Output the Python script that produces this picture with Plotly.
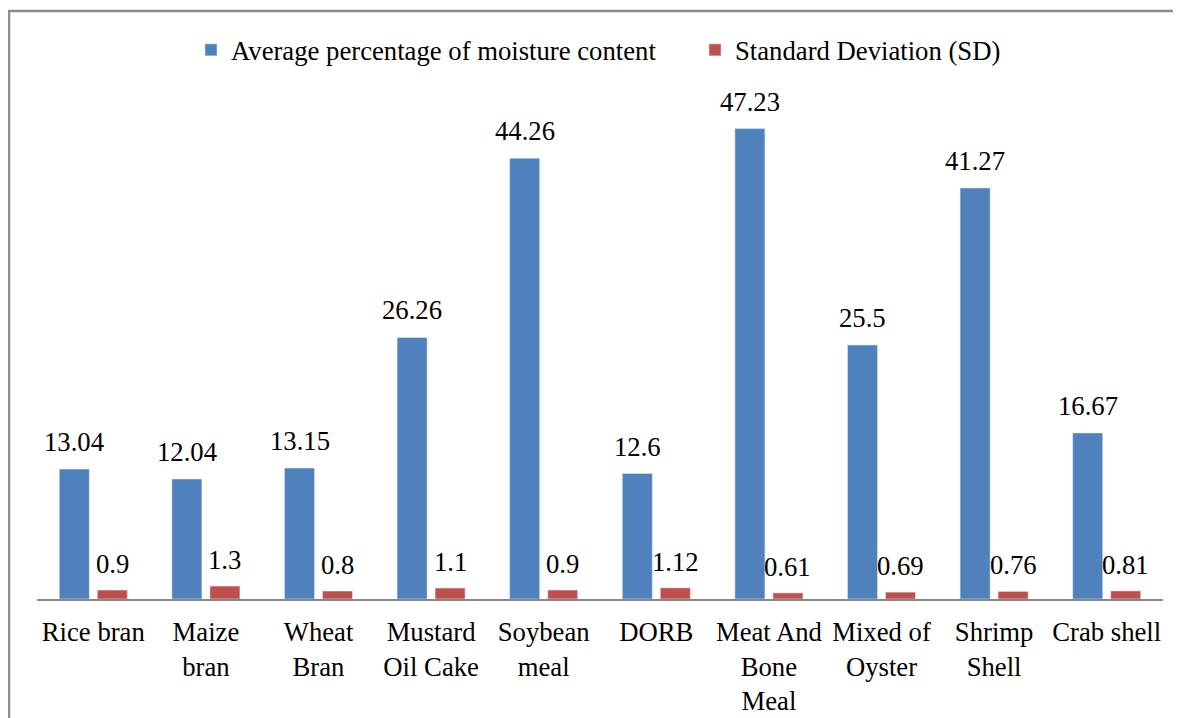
import plotly.graph_objects as go

categories = ["Rice bran", "Maize<br>bran", "Wheat<br>Bran", "Mustard<br>Oil Cake", "Soybean<br>meal",
              "DORB", "Meat And<br>Bone<br>Meal", "Mixed of<br>Oyster", "Shrimp<br>Shell", "Crab shell"]
avg_moisture = [13.04, 12.04, 13.15, 26.26, 44.26, 12.6, 47.23, 25.5, 41.27, 16.67]
std_dev = [0.9, 1.3, 0.8, 1.1, 0.9, 1.12, 0.61, 0.69, 0.76, 0.81]
avg_labels = ["13.04", "12.04", "13.15", "26.26", "44.26", "12.6", "47.23", "25.5", "41.27", "16.67"]
sd_labels = ["0.9", "1.3", "0.8", "1.1", "0.9", "1.12", "0.61", "0.69", "0.76", "0.81"]

FONT = "'Liberation Serif', 'DejaVu Serif', serif"
FS = 26.7
OFF = 8  # page body margin
W, H = 1181 - OFF, 718 - OFF
L, R, T, B = 37 - OFF, 18, 101 - OFF, 119
pw, ph = W - L - R, H - T - B

fig = go.Figure()
fig.add_trace(go.Bar(x=categories, y=avg_moisture, name="Average percentage of moisture content",
                     marker_color="#4F81BD", hoverinfo="skip"))
fig.add_trace(go.Bar(x=categories, y=std_dev, name="Standard Deviation (SD)",
                     marker_color="#C0504D", hoverinfo="skip"))

annotations = []
for cat, v, t in zip(categories, avg_moisture, avg_labels):
    annotations.append(dict(x=cat, y=v, text=t, xshift=-19, yshift=10, showarrow=False,
                            yanchor="bottom", xanchor="center",
                            font=dict(family=FONT, size=FS, color="#000")))
for cat, v, t in zip(categories, std_dev, sd_labels):
    annotations.append(dict(x=cat, y=v, text=t, xshift=19, yshift=9, showarrow=False,
                            yanchor="bottom", xanchor="center",
                            font=dict(family=FONT, size=FS, color="#000")))

# page-pixel -> paper coordinates
fx = lambda px: (px - OFF - L) / pw
fy = lambda py: (H - B - (py - OFF)) / ph

fig.update_layout(
    width=W, height=H,
    margin=dict(l=L, r=R, t=T, b=B, autoexpand=False),
    paper_bgcolor="white", plot_bgcolor="white",
    barmode="group", bargap=0.325, bargroupgap=0.21,
    font=dict(family=FONT, size=FS, color="#000"),
    showlegend=True,
    legend=dict(orientation="h", x=fx(191), xanchor="left", y=fy(50), yanchor="middle",
                font=dict(family=FONT, size=FS, color="#000"), itemwidth=30,
                entrywidth=459, entrywidthmode="pixels",
                bgcolor="rgba(0,0,0,0)"),
    xaxis=dict(showline=True, linecolor="#888888", linewidth=1.5, ticks="", showgrid=False,
               automargin=False, ticklabelstandoff=8,
               tickfont=dict(family=FONT, size=FS, color="#000")),
    yaxis=dict(range=[0, 50], visible=False, showgrid=False, zeroline=False, automargin=False),
    annotations=annotations,
    shapes=[dict(type="rect", xref="paper", yref="paper",
                 x0=fx(9), x1=fx(1300), y0=fy(900), y1=fy(11),
                 line=dict(color="#8C8C8C", width=2.5), fillcolor="rgba(0,0,0,0)", layer="above")],
)

fig.write_html("out.html")
